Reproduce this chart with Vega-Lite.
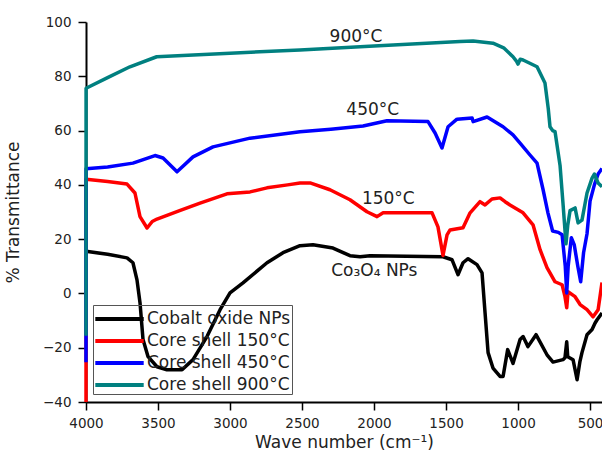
{
  "$schema": "https://vega.github.io/schema/vega-lite/v6.json",
  "width": 516,
  "height": 380,
  "autosize": "none",
  "padding": {"left": 86, "top": 22, "right": 0, "bottom": 61},
  "background": "white",
  "config": {
    "view": {"stroke": null},
    "font": "DejaVu Sans"
  },
  "datasets": {
    "spectra": [
      {"s": "Cobalt oxide NPs", "x": 4000, "y": 15.5},
      {"s": "Cobalt oxide NPs", "x": 3850, "y": 14.4},
      {"s": "Cobalt oxide NPs", "x": 3715, "y": 13.1},
      {"s": "Cobalt oxide NPs", "x": 3674, "y": 11.3},
      {"s": "Cobalt oxide NPs", "x": 3646, "y": 5},
      {"s": "Cobalt oxide NPs", "x": 3625, "y": -3.4},
      {"s": "Cobalt oxide NPs", "x": 3604, "y": -17},
      {"s": "Cobalt oxide NPs", "x": 3569, "y": -23.3},
      {"s": "Cobalt oxide NPs", "x": 3507, "y": -27},
      {"s": "Cobalt oxide NPs", "x": 3438, "y": -28.1},
      {"s": "Cobalt oxide NPs", "x": 3333, "y": -28.1},
      {"s": "Cobalt oxide NPs", "x": 3257, "y": -24.4},
      {"s": "Cobalt oxide NPs", "x": 3160, "y": -15.9},
      {"s": "Cobalt oxide NPs", "x": 3069, "y": -6},
      {"s": "Cobalt oxide NPs", "x": 3000, "y": 0.2},
      {"s": "Cobalt oxide NPs", "x": 2910, "y": 3.9},
      {"s": "Cobalt oxide NPs", "x": 2743, "y": 11.3},
      {"s": "Cobalt oxide NPs", "x": 2632, "y": 15},
      {"s": "Cobalt oxide NPs", "x": 2514, "y": 17.6},
      {"s": "Cobalt oxide NPs", "x": 2424, "y": 17.9},
      {"s": "Cobalt oxide NPs", "x": 2285, "y": 16.7},
      {"s": "Cobalt oxide NPs", "x": 2167, "y": 13.9},
      {"s": "Cobalt oxide NPs", "x": 2097, "y": 13.5},
      {"s": "Cobalt oxide NPs", "x": 2028, "y": 13.9},
      {"s": "Cobalt oxide NPs", "x": 1521, "y": 13.5},
      {"s": "Cobalt oxide NPs", "x": 1458, "y": 12.4},
      {"s": "Cobalt oxide NPs", "x": 1417, "y": 6.9},
      {"s": "Cobalt oxide NPs", "x": 1382, "y": 11.3},
      {"s": "Cobalt oxide NPs", "x": 1347, "y": 12.8},
      {"s": "Cobalt oxide NPs", "x": 1285, "y": 10.6},
      {"s": "Cobalt oxide NPs", "x": 1250, "y": 7.6},
      {"s": "Cobalt oxide NPs", "x": 1229, "y": -7.2},
      {"s": "Cobalt oxide NPs", "x": 1208, "y": -21.8},
      {"s": "Cobalt oxide NPs", "x": 1174, "y": -27.5},
      {"s": "Cobalt oxide NPs", "x": 1125, "y": -30.6},
      {"s": "Cobalt oxide NPs", "x": 1104, "y": -30.6},
      {"s": "Cobalt oxide NPs", "x": 1072, "y": -20.7},
      {"s": "Cobalt oxide NPs", "x": 1035, "y": -25.8},
      {"s": "Cobalt oxide NPs", "x": 986, "y": -17},
      {"s": "Cobalt oxide NPs", "x": 965, "y": -15.9},
      {"s": "Cobalt oxide NPs", "x": 931, "y": -19.6},
      {"s": "Cobalt oxide NPs", "x": 875, "y": -15.2},
      {"s": "Cobalt oxide NPs", "x": 799, "y": -22.6},
      {"s": "Cobalt oxide NPs", "x": 757, "y": -25.3},
      {"s": "Cobalt oxide NPs", "x": 688, "y": -24.4},
      {"s": "Cobalt oxide NPs", "x": 674, "y": -23.7},
      {"s": "Cobalt oxide NPs", "x": 662, "y": -17.8},
      {"s": "Cobalt oxide NPs", "x": 655, "y": -23.3},
      {"s": "Cobalt oxide NPs", "x": 618, "y": -24.4},
      {"s": "Cobalt oxide NPs", "x": 590, "y": -31.8},
      {"s": "Cobalt oxide NPs", "x": 570, "y": -25},
      {"s": "Cobalt oxide NPs", "x": 556, "y": -21.8},
      {"s": "Cobalt oxide NPs", "x": 521, "y": -15.2},
      {"s": "Cobalt oxide NPs", "x": 486, "y": -13.3},
      {"s": "Cobalt oxide NPs", "x": 465, "y": -10.9},
      {"s": "Cobalt oxide NPs", "x": 451, "y": -9.7},
      {"s": "Cobalt oxide NPs", "x": 417, "y": -7.2},

      {"s": "Core shell 150°C", "x": 4000, "y": -40},
      {"s": "Core shell 150°C", "x": 3999.5, "y": 42.1},
      {"s": "Core shell 150°C", "x": 3850, "y": 41.2},
      {"s": "Core shell 150°C", "x": 3715, "y": 40.3},
      {"s": "Core shell 150°C", "x": 3660, "y": 37},
      {"s": "Core shell 150°C", "x": 3625, "y": 28.3},
      {"s": "Core shell 150°C", "x": 3576, "y": 24.1},
      {"s": "Core shell 150°C", "x": 3540, "y": 26.5},
      {"s": "Core shell 150°C", "x": 3507, "y": 27.4},
      {"s": "Core shell 150°C", "x": 3350, "y": 30.5},
      {"s": "Core shell 150°C", "x": 3208, "y": 33.3},
      {"s": "Core shell 150°C", "x": 3021, "y": 36.7},
      {"s": "Core shell 150°C", "x": 2861, "y": 37.4},
      {"s": "Core shell 150°C", "x": 2743, "y": 38.9},
      {"s": "Core shell 150°C", "x": 2600, "y": 40},
      {"s": "Core shell 150°C", "x": 2514, "y": 40.7},
      {"s": "Core shell 150°C", "x": 2444, "y": 40.7},
      {"s": "Core shell 150°C", "x": 2306, "y": 38.2},
      {"s": "Core shell 150°C", "x": 2167, "y": 34.5},
      {"s": "Core shell 150°C", "x": 2049, "y": 30.1},
      {"s": "Core shell 150°C", "x": 1979, "y": 28.3},
      {"s": "Core shell 150°C", "x": 1937, "y": 29.7},
      {"s": "Core shell 150°C", "x": 1597, "y": 29.7},
      {"s": "Core shell 150°C", "x": 1556, "y": 24.5},
      {"s": "Core shell 150°C", "x": 1521, "y": 14},
      {"s": "Core shell 150°C", "x": 1493, "y": 21.6},
      {"s": "Core shell 150°C", "x": 1472, "y": 23.4},
      {"s": "Core shell 150°C", "x": 1382, "y": 24.2},
      {"s": "Core shell 150°C", "x": 1333, "y": 29.7},
      {"s": "Core shell 150°C", "x": 1264, "y": 33.8},
      {"s": "Core shell 150°C", "x": 1229, "y": 32.6},
      {"s": "Core shell 150°C", "x": 1181, "y": 34.8},
      {"s": "Core shell 150°C", "x": 1125, "y": 35.2},
      {"s": "Core shell 150°C", "x": 1090, "y": 33.8},
      {"s": "Core shell 150°C", "x": 1056, "y": 32.6},
      {"s": "Core shell 150°C", "x": 965, "y": 29.7},
      {"s": "Core shell 150°C", "x": 896, "y": 25.3},
      {"s": "Core shell 150°C", "x": 847, "y": 16.1},
      {"s": "Core shell 150°C", "x": 799, "y": 9.5},
      {"s": "Core shell 150°C", "x": 743, "y": 4.3},
      {"s": "Core shell 150°C", "x": 694, "y": 3.2},
      {"s": "Core shell 150°C", "x": 674, "y": -1.2},
      {"s": "Core shell 150°C", "x": 662, "y": -5.3},
      {"s": "Core shell 150°C", "x": 653, "y": 0.6},
      {"s": "Core shell 150°C", "x": 604, "y": -1.2},
      {"s": "Core shell 150°C", "x": 569, "y": -4.1},
      {"s": "Core shell 150°C", "x": 521, "y": -6},
      {"s": "Core shell 150°C", "x": 479, "y": -8.6},
      {"s": "Core shell 150°C", "x": 444, "y": -6},
      {"s": "Core shell 150°C", "x": 417, "y": 4},

      {"s": "Core shell 450°C", "x": 4000, "y": -25.4},
      {"s": "Core shell 450°C", "x": 3999.5, "y": 45.9},
      {"s": "Core shell 450°C", "x": 3850, "y": 46.6},
      {"s": "Core shell 450°C", "x": 3674, "y": 48},
      {"s": "Core shell 450°C", "x": 3521, "y": 50.8},
      {"s": "Core shell 450°C", "x": 3465, "y": 49.9},
      {"s": "Core shell 450°C", "x": 3368, "y": 44.8},
      {"s": "Core shell 450°C", "x": 3257, "y": 50.3},
      {"s": "Core shell 450°C", "x": 3118, "y": 54},
      {"s": "Core shell 450°C", "x": 2861, "y": 57.2},
      {"s": "Core shell 450°C", "x": 2514, "y": 59.6},
      {"s": "Core shell 450°C", "x": 2300, "y": 60.5},
      {"s": "Core shell 450°C", "x": 2076, "y": 61.7},
      {"s": "Core shell 450°C", "x": 1910, "y": 63.6},
      {"s": "Core shell 450°C", "x": 1625, "y": 63.3},
      {"s": "Core shell 450°C", "x": 1576, "y": 59.1},
      {"s": "Core shell 450°C", "x": 1528, "y": 53.6},
      {"s": "Core shell 450°C", "x": 1486, "y": 61.4},
      {"s": "Core shell 450°C", "x": 1424, "y": 64.2},
      {"s": "Core shell 450°C", "x": 1319, "y": 64.6},
      {"s": "Core shell 450°C", "x": 1312, "y": 63.3},
      {"s": "Core shell 450°C", "x": 1215, "y": 65},
      {"s": "Core shell 450°C", "x": 1104, "y": 61.4},
      {"s": "Core shell 450°C", "x": 1035, "y": 58.4},
      {"s": "Core shell 450°C", "x": 986, "y": 55.4},
      {"s": "Core shell 450°C", "x": 917, "y": 51},
      {"s": "Core shell 450°C", "x": 868, "y": 48},
      {"s": "Core shell 450°C", "x": 826, "y": 38.2},
      {"s": "Core shell 450°C", "x": 792, "y": 29.6},
      {"s": "Core shell 450°C", "x": 760, "y": 23},
      {"s": "Core shell 450°C", "x": 720, "y": 22.5},
      {"s": "Core shell 450°C", "x": 694, "y": 21.6},
      {"s": "Core shell 450°C", "x": 672, "y": 10},
      {"s": "Core shell 450°C", "x": 662, "y": 0.2},
      {"s": "Core shell 450°C", "x": 652, "y": 10},
      {"s": "Core shell 450°C", "x": 630, "y": 20.5},
      {"s": "Core shell 450°C", "x": 610, "y": 18},
      {"s": "Core shell 450°C", "x": 585, "y": 10},
      {"s": "Core shell 450°C", "x": 565, "y": 4.3},
      {"s": "Core shell 450°C", "x": 545, "y": 15},
      {"s": "Core shell 450°C", "x": 521, "y": 22},
      {"s": "Core shell 450°C", "x": 500, "y": 34},
      {"s": "Core shell 450°C", "x": 470, "y": 40},
      {"s": "Core shell 450°C", "x": 444, "y": 44},
      {"s": "Core shell 450°C", "x": 417, "y": 46},

      {"s": "Core shell 900°C", "x": 4000, "y": -15.6},
      {"s": "Core shell 900°C", "x": 3999.5, "y": 75.6},
      {"s": "Core shell 900°C", "x": 3850, "y": 79.5},
      {"s": "Core shell 900°C", "x": 3695, "y": 83.5},
      {"s": "Core shell 900°C", "x": 3509, "y": 87.2},
      {"s": "Core shell 900°C", "x": 3000, "y": 88.5},
      {"s": "Core shell 900°C", "x": 2514, "y": 89.7},
      {"s": "Core shell 900°C", "x": 2000, "y": 91.2},
      {"s": "Core shell 900°C", "x": 1403, "y": 92.8},
      {"s": "Core shell 900°C", "x": 1312, "y": 93},
      {"s": "Core shell 900°C", "x": 1174, "y": 92.2},
      {"s": "Core shell 900°C", "x": 1100, "y": 90.5},
      {"s": "Core shell 900°C", "x": 1035, "y": 87.2},
      {"s": "Core shell 900°C", "x": 1010, "y": 85.5},
      {"s": "Core shell 900°C", "x": 1000, "y": 84.5},
      {"s": "Core shell 900°C", "x": 985, "y": 86.3},
      {"s": "Core shell 900°C", "x": 965, "y": 86},
      {"s": "Core shell 900°C", "x": 868, "y": 83.5},
      {"s": "Core shell 900°C", "x": 813, "y": 77.5},
      {"s": "Core shell 900°C", "x": 790, "y": 68},
      {"s": "Core shell 900°C", "x": 778, "y": 61.4},
      {"s": "Core shell 900°C", "x": 760, "y": 60},
      {"s": "Core shell 900°C", "x": 743, "y": 59.6},
      {"s": "Core shell 900°C", "x": 708, "y": 47},
      {"s": "Core shell 900°C", "x": 688, "y": 33.3},
      {"s": "Core shell 900°C", "x": 667, "y": 18.3},
      {"s": "Core shell 900°C", "x": 655, "y": 25},
      {"s": "Core shell 900°C", "x": 639, "y": 30.5},
      {"s": "Core shell 900°C", "x": 604, "y": 31.5},
      {"s": "Core shell 900°C", "x": 583, "y": 26},
      {"s": "Core shell 900°C", "x": 556, "y": 27},
      {"s": "Core shell 900°C", "x": 521, "y": 37},
      {"s": "Core shell 900°C", "x": 486, "y": 42.5},
      {"s": "Core shell 900°C", "x": 470, "y": 44},
      {"s": "Core shell 900°C", "x": 444, "y": 40.7},
      {"s": "Core shell 900°C", "x": 417, "y": 39.3}
    ],
    "notes": [
      {"x": 2125, "y": 92.7, "label": "900°C"},
      {"x": 2009, "y": 65.8, "label": "450°C"},
      {"x": 1901, "y": 33.0, "label": "150°C"},
      {"x": 1998, "y": 6.5, "label": "Co₃O₄ NPs"}
    ]
  },
  "layer": [
    {
      "data": {"name": "spectra"},
      "mark": {"type": "line", "strokeWidth": 3.5, "clip": false, "strokeJoin": "round"},
      "encoding": {
        "x": {
          "field": "x", "type": "quantitative",
          "scale": {"domain": [4000, 417], "nice": false, "zero": false},
          "axis": {
            "title": "Wave number (cm⁻¹)",
            "values": [4000, 3750, 3500, 3250, 3000, 2750, 2500, 2250, 2000, 1750, 1500, 1250, 1000, 750, 500],
            "format": "d",
            "labelExpr": "datum.value % 500 === 0 ? datum.label : ''",
            "tickSize": {"condition": {"test": "datum.value % 500 === 0", "value": 8}, "value": 4},
            "grid": false,
            "domainColor": "#000", "domainWidth": 2,
            "tickColor": "#000", "tickWidth": 1.5,
            "labelFont": "DejaVu Sans", "labelFontSize": 13.5, "labelColor": "#222",
            "labelPadding": 6, "labelFlush": false, "labelOverlap": false,
            "titleFont": "DejaVu Sans", "titleFontSize": 17, "titleFontWeight": "normal",
            "titleColor": "#222", "titlePadding": 5
          }
        },
        "y": {
          "field": "y", "type": "quantitative",
          "scale": {"domain": [-40, 100], "nice": false, "zero": false},
          "axis": {
            "title": "% Transmittance",
            "values": [-40, -30, -20, -10, 0, 10, 20, 30, 40, 50, 60, 70, 80, 90, 100],
            "labelExpr": "datum.value % 20 === 0 ? datum.label : ''",
            "tickSize": {"condition": {"test": "datum.value % 20 === 0", "value": 8}, "value": 4},
            "grid": false,
            "domainColor": "#000", "domainWidth": 2,
            "tickColor": "#000", "tickWidth": 1.5,
            "labelFont": "DejaVu Sans", "labelFontSize": 13.5, "labelColor": "#222",
            "labelPadding": 7, "labelOverlap": false,
            "titleFont": "DejaVu Sans", "titleFontSize": 17, "titleFontWeight": "normal",
            "titleColor": "#222", "titlePadding": 20
          }
        },
        "color": {
          "field": "s", "type": "nominal",
          "scale": {
            "domain": ["Cobalt oxide NPs", "Core shell 150°C", "Core shell 450°C", "Core shell 900°C"],
            "range": ["#000000", "#ff0000", "#0000ff", "#008080"]
          },
          "legend": {
            "title": null,
            "orient": "none", "legendX": 7, "legendY": 283,
            "symbolType": "M-2.2,0H2.2", "symbolSize": 484, "symbolStrokeWidth": 4,
            "symbolOffset": 12.5,
            "labelFont": "DejaVu Sans", "labelFontSize": 17, "labelColor": "#222",
            "labelOffset": 14.5, "strokeColor": "#555", "padding": 1, "rowPadding": 1
          }
        }
      }
    },
    {
      "data": {"name": "notes"},
      "mark": {"type": "text", "font": "DejaVu Sans", "fontSize": 17, "color": "#222", "align": "center", "baseline": "alphabetic"},
      "encoding": {
        "x": {"field": "x", "type": "quantitative"},
        "y": {"field": "y", "type": "quantitative"},
        "text": {"field": "label"}
      }
    },
    {
      "mark": {"type": "rule", "color": "#444", "strokeWidth": 1.5},
      "encoding": {"y": {"datum": 100}}
    }
  ]
}
